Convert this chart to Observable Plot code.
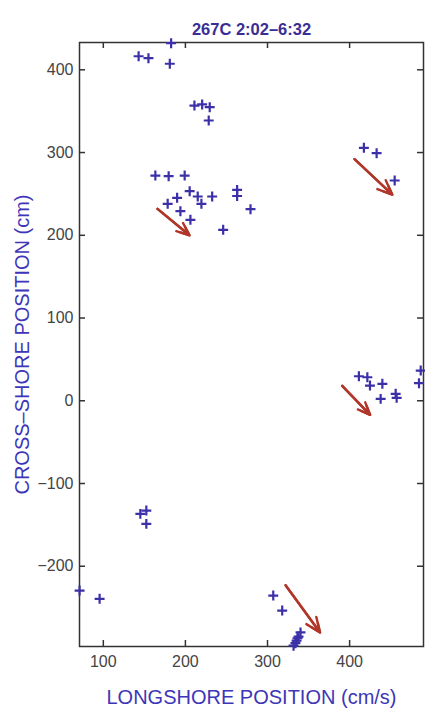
<!DOCTYPE html>
<html><head><meta charset="utf-8">
<script src="https://cdn.jsdelivr.net/npm/d3@7"></script>
<script src="https://cdn.jsdelivr.net/npm/@observablehq/plot@0.6"></script>
<style>body{margin:0;background:#fff}</style>
</head><body><div id="chart"></div>
<script>
const titleText = "267C 2:02–6:32";
const xLabel = "LONGSHORE POSITION (cm/s)";
const yLabel = "CROSS–SHORE POSITION (cm)";
const xTicks = [100, 200, 300, 400];
const yTicks = [-200, -100, 0, 100, 200, 300, 400];

const pointX = [143, 155, 181, 182.6, 211, 220.4, 229.6, 228.4,
  163.4, 179.6, 199.1, 205.2, 215, 219.5, 232.6, 263, 263, 279.3, 246, 189.9, 178.4, 193.9, 206.1,
  417.4, 432.9, 454.9,
  411.3, 421.6, 424.8, 439.9, 437.8, 456.1, 457.3, 484.5, 486.6,
  145.1, 152.4, 152.4, 71.1, 95.5,
  307, 317.9, 331.7, 335.4, 337.8, 340.2, 334, 336.5];
const pointY = [416.4, 414, 407.3, 432.2, 356.8, 358.1, 354.8, 338.7,
  272.2, 271.4, 272.2, 253.3, 246.9, 238, 246.9, 254.9, 247.5, 231.5, 206.6, 245.3, 238, 229.1, 218.7,
  305.7, 299.2, 266.2,
  29.6, 28.4, 18.4, 20.5, 2.3, 8.4, 3.5, 21.2, 36.5,
  -136.7, -132.7, -148.8, -229.4, -239.4,
  -235.4, -253.6, -296, -290, -285, -280, -293, -287];

const arrowX1 = [166, 406, 391, 322];
const arrowY1 = [232, 292, 18, -223];
const arrowX2 = [205, 452, 425, 364];
const arrowY2 = [200, 249, -17, -280];

const points = pointX.map((x, i) => ({x, y: pointY[i]}));
const arrows = arrowX1.map((x1, i) => ({x1, y1: arrowY1[i], x2: arrowX2[i], y2: arrowY2[i]}));

const W = 425, H = 713, mL = 79, mR = 2, mT = 42, mB = 67;
const innerW = W - mL - mR, innerH = H - mT - mB;
const tickLen = 6;

const chart = Plot.plot({
  width: W, height: H,
  marginLeft: mL, marginRight: mR, marginTop: mT, marginBottom: mB,
  style: {background: "#fff", fontFamily: "'Liberation Sans', Arial, sans-serif", overflow: "visible"},
  x: {domain: [71, 490], label: null},
  y: {domain: [-297, 433], label: null},
  marks: [
    Plot.frame({stroke: "#333", strokeWidth: 1.5}),
    Plot.tickY(yTicks, {y: d => d, stroke: "#333", strokeWidth: 1.5, insetRight: innerW - tickLen}),
    Plot.tickY(yTicks, {y: d => d, stroke: "#333", strokeWidth: 1.5, insetLeft: innerW - tickLen}),
    Plot.tickX(xTicks, {x: d => d, stroke: "#333", strokeWidth: 1.5, insetTop: innerH - tickLen}),
    Plot.tickX(xTicks, {x: d => d, stroke: "#333", strokeWidth: 1.5, insetBottom: innerH - tickLen}),
    Plot.axisX({ticks: xTicks, tickSize: 0, tickPadding: 9, fontSize: 16, fill: "#444", label: null}),
    Plot.axisY({ticks: yTicks, tickSize: 0, tickPadding: 6, fontSize: 16, fill: "#444", label: null}),
    Plot.arrow(arrows, {x1: "x1", y1: "y1", x2: "x2", y2: "y2", stroke: "#b0362a", strokeWidth: 2.4, headLength: 10, headAngle: 45}),
    Plot.arrow(arrows, {x1: "x1", y1: "y1", x2: "x2", y2: "y2", stroke: "#b0362a", strokeWidth: 2.4, headLength: 6, headAngle: 45}),
    Plot.dot(points, {x: "x", y: "y", symbol: "plus", r: 3.3, stroke: "#3b30a8", strokeWidth: 2.2}),
    Plot.text([titleText], {frameAnchor: "top", dy: -19, fontSize: 16.5, fontWeight: "bold", fill: "#3a2d94"}),
    Plot.text([xLabel], {frameAnchor: "bottom", dy: 57, fontSize: 20, fill: "#3d36b8"}),
    Plot.text([yLabel], {frameAnchor: "left", textAnchor: "middle", dx: -57, rotate: -90, fontSize: 20, fill: "#3d36b8"})
  ]
});
document.getElementById("chart").append(chart);
</script>
</body></html>
